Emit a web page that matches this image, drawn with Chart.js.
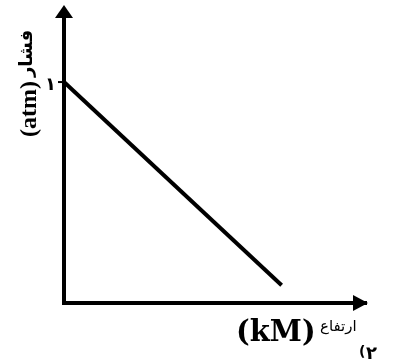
<!DOCTYPE html>
<html><head><meta charset="utf-8">
<script src="https://cdn.jsdelivr.net/npm/chart.js@4"></script>
<style>html,body{margin:0;padding:0;background:#fff}canvas{display:block}</style>
</head><body>
<canvas id="c" width="400" height="361"></canvas>
<script>
const altitude = [0, 0.98];
const pressure = [1, 0.08];
const yTickValues = [1];
const yTickLabels = ['۱'];
const xTitleUnit = '(kM)';
const xTitleWord = 'ارتفاع';
const yTitleUnit = '(atm)';
const yTitleWord = 'فشار';
const questionNo = '۲';

const decor = {
  id: 'decor',
  afterDraw(chart) {
    const ctx = chart.ctx, a = chart.chartArea;
    const ys = chart.scales.y;
    ctx.save();
    ctx.fillStyle = '#000';
    ctx.strokeStyle = '#000';
    // arrowheads
    ctx.beginPath();
    ctx.moveTo(a.left, a.top - 7);
    ctx.lineTo(a.left - 9, a.top + 6);
    ctx.lineTo(a.left + 9, a.top + 6);
    ctx.closePath(); ctx.fill();
    ctx.beginPath();
    ctx.moveTo(a.right + 2, a.bottom);
    ctx.lineTo(a.right - 13, a.bottom - 8);
    ctx.lineTo(a.right - 13, a.bottom + 8);
    ctx.closePath(); ctx.fill();
    // y tick labels
    ctx.font = 'bold 18px "DejaVu Sans"';
    ctx.textAlign = 'right'; ctx.textBaseline = 'middle';
    yTickValues.forEach((v, i) => {
      const py = ys.getPixelForValue(v);
      ctx.fillText(yTickLabels[i], a.left - 8, py + 3);
      ctx.lineWidth = 2;
      ctx.beginPath(); ctx.moveTo(a.left - 6, py); ctx.lineTo(a.left, py); ctx.stroke();
    });
    // y title rotated
    ctx.save();
    ctx.translate(36, 137);
    ctx.rotate(-Math.PI / 2);
    ctx.textAlign = 'left'; ctx.textBaseline = 'alphabetic';
    ctx.font = 'bold 24px "Liberation Serif"';
    ctx.fillText(yTitleUnit, 0, 0);
    const w = ctx.measureText(yTitleUnit).width;
    ctx.font = 'bold 18px "DejaVu Sans"';
    ctx.fillText(yTitleWord, w + 4, -4);
    ctx.restore();
    // x title
    ctx.textAlign = 'left'; ctx.textBaseline = 'alphabetic';
    ctx.font = 'bold 29px "DejaVu Serif"';
    ctx.fillText(xTitleUnit, 236, 341);
    ctx.font = '15px "DejaVu Sans"';
    ctx.fillText(xTitleWord, 320, 331);
    ctx.font = 'bold 14px "DejaVu Sans"';
    ctx.fillText('(', 359, 356);
    ctx.font = 'bold 18px "DejaVu Sans"';
    ctx.fillText(questionNo, 366, 359);
    ctx.restore();
  }
};

new Chart(document.getElementById('c'), {
  type: 'line',
  data: {
    datasets: [{
      data: altitude.map((x, i) => ({ x, y: pressure[i] })),
      borderColor: '#000',
      borderWidth: 4,
      pointRadius: 0,
      tension: 0,
      fill: false
    }]
  },
  options: {
    responsive: false,
    animation: false,
    layout: { padding: { left: 64, top: 12, right: 34, bottom: 58 } },
    plugins: { legend: { display: false }, tooltip: { enabled: false } },
    scales: {
      x: {
        type: 'linear', min: 0, max: 1.36,
        ticks: { display: false },
        grid: { display: false, drawTicks: false },
        border: { display: true, color: '#000', width: 4 }
      },
      y: {
        type: 'linear', min: 0, max: 1.317,
        ticks: { display: false },
        grid: { display: false, drawTicks: false },
        border: { display: true, color: '#000', width: 4 }
      }
    }
  },
  plugins: [decor]
});
</script>
</body></html>
